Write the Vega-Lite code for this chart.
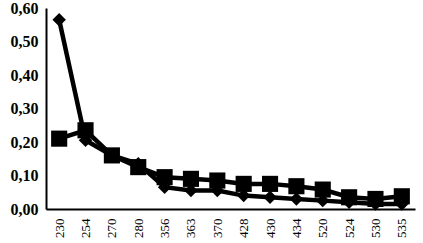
{
  "$schema": "https://vega.github.io/schema/vega-lite/v6.json",
  "width": 369,
  "height": 201,
  "padding": {"left": 46, "top": 8, "right": 8, "bottom": 34},
  "autosize": {"type": "none"},
  "background": "white",
  "config": {"view": {"stroke": null}, "font": "Liberation Serif"},
  "data": {"values": [
    {"x": "230", "s": "A", "v": 0.565}, {"x": "254", "s": "A", "v": 0.205}, {"x": "270", "s": "A", "v": 0.16}, {"x": "280", "s": "A", "v": 0.135},
    {"x": "356", "s": "A", "v": 0.065}, {"x": "363", "s": "A", "v": 0.055}, {"x": "370", "s": "A", "v": 0.055}, {"x": "428", "s": "A", "v": 0.04},
    {"x": "430", "s": "A", "v": 0.035}, {"x": "434", "s": "A", "v": 0.03}, {"x": "520", "s": "A", "v": 0.025}, {"x": "524", "s": "A", "v": 0.02},
    {"x": "530", "s": "A", "v": 0.015}, {"x": "535", "s": "A", "v": 0.015},
    {"x": "230", "s": "B", "v": 0.21}, {"x": "254", "s": "B", "v": 0.235}, {"x": "270", "s": "B", "v": 0.16}, {"x": "280", "s": "B", "v": 0.125},
    {"x": "356", "s": "B", "v": 0.095}, {"x": "363", "s": "B", "v": 0.09}, {"x": "370", "s": "B", "v": 0.085}, {"x": "428", "s": "B", "v": 0.075},
    {"x": "430", "s": "B", "v": 0.075}, {"x": "434", "s": "B", "v": 0.068}, {"x": "520", "s": "B", "v": 0.058}, {"x": "524", "s": "B", "v": 0.035},
    {"x": "530", "s": "B", "v": 0.03}, {"x": "535", "s": "B", "v": 0.038}
  ]},
  "encoding": {
    "x": {"field": "x", "type": "ordinal", "sort": null,
      "scale": {"paddingInner": 0, "paddingOuter": 0.5},
      "axis": {"title": null, "labelAngle": -90, "labelFontSize": 13, "labelColor": "black", "labelFontWeight": "normal", "ticks": false, "domainColor": "black", "domainWidth": 2, "labelPadding": 9, "labelAlign": "right", "labelBaseline": "middle"}},
    "y": {"field": "v", "type": "quantitative",
      "scale": {"domain": [0, 0.6], "nice": false},
      "axis": {"title": null, "values": [0, 0.1, 0.2, 0.3, 0.4, 0.5, 0.6], "labelExpr": "replace(format(datum.value, '.2f'), '.', ',')", "labelFontSize": 16, "labelFontWeight": "bold", "labelColor": "black", "ticks": false, "grid": false, "domainColor": "black", "domainWidth": 2, "labelPadding": 8}},
    "detail": {"field": "s"}
  },
  "layer": [
    {"mark": {"type": "line", "color": "black", "strokeWidth": 4.5}},
    {"mark": {"type": "point", "filled": true, "color": "black", "opacity": 1},
      "encoding": {
        "shape": {"field": "s", "type": "nominal", "scale": {"domain": ["A", "B"], "range": ["diamond", "square"]}, "legend": null},
        "size": {"field": "s", "type": "nominal", "scale": {"domain": ["A", "B"], "range": [180, 260]}, "legend": null}
      }}
  ]
}
